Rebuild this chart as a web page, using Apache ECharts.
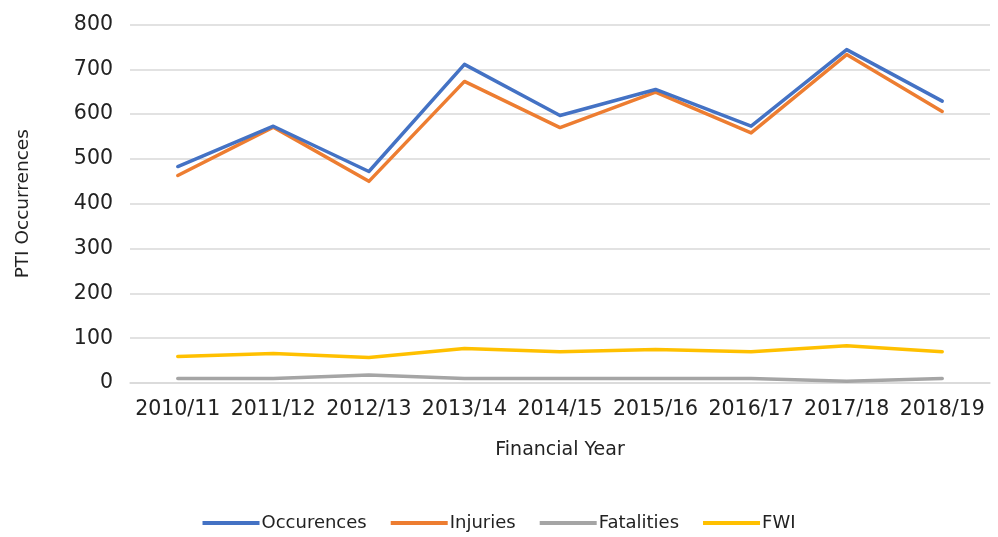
<!DOCTYPE html>
<html>
<head>
<meta charset="utf-8">
<script src="https://cdn.jsdelivr.net/npm/echarts@6/dist/echarts.min.js"></script>
<style>
html,body{margin:0;padding:0;background:#fff;}
#chart{width:998px;height:537px;}
</style>
</head>
<body>
<div id="chart"></div>
<script>
var categories = ['2010/11','2011/12','2012/13','2013/14','2014/15','2015/16','2016/17','2017/18','2018/19'];
var occurences = [483, 573, 472, 711, 597, 655, 573, 744, 629];
var injuries   = [463, 571, 450, 673, 570, 649, 558, 733, 606];
var fatalities = [10, 10, 18, 10, 10, 10, 10, 4, 10];
var fwi        = [59, 66, 57, 77, 70, 75, 70, 83, 70];
var yTicks = [0, 100, 200, 300, 400, 500, 600, 700, 800];

var font = 'DejaVu Sans';
var txt = '#222222';
var chart = echarts.init(document.getElementById('chart'), null, {renderer:'canvas'});
function s(name, data, color){
  return {name:name, type:'line', data:data, symbol:'none', smooth:false,
    lineStyle:{width:3.5, color:color, cap:'round', join:'round'}, itemStyle:{color:color}};
}
chart.setOption({
  animation:false,
  backgroundColor:'#ffffff',
  grid:{left:130, right:8, top:24.5, bottom:154, containLabel:false},
  xAxis:{type:'category', data:categories, boundaryGap:true,
    name:'Financial Year', nameLocation:'middle', nameGap:58,
    nameTextStyle:{fontFamily:font, fontSize:19, color:txt},
    axisLine:{show:true, lineStyle:{color:'#d9d9d9', width:1.5}},
    axisTick:{show:false},
    axisLabel:{fontFamily:font, fontSize:20.5, color:txt, margin:16, interval:0}},
  yAxis:{type:'value', min:yTicks[0], max:yTicks[yTicks.length-1], interval:100,
    name:'PTI Occurrences', nameLocation:'middle', nameGap:97, nameRotate:90,
    nameTextStyle:{fontFamily:font, fontSize:18.5, color:txt},
    axisLine:{show:false}, axisTick:{show:false},
    axisLabel:{fontFamily:font, fontSize:20.5, color:txt, margin:17},
    splitLine:{lineStyle:{color:'#d9d9d9', width:1.5}}},
  legend:{bottom:0, left:'center', itemWidth:57, itemHeight:4, itemGap:24, icon:'rect',
    textStyle:{fontFamily:font, fontSize:18, color:txt, padding:[0,0,0,-3]},
    data:['Occurences','Injuries','Fatalities','FWI']},
  series:[
    s('Fatalities', fatalities, '#A5A5A5'),
    s('FWI', fwi, '#FFC000'),
    s('Injuries', injuries, '#ED7D31'),
    s('Occurences', occurences, '#4472C4')
  ]
});
</script>
</body>
</html>
